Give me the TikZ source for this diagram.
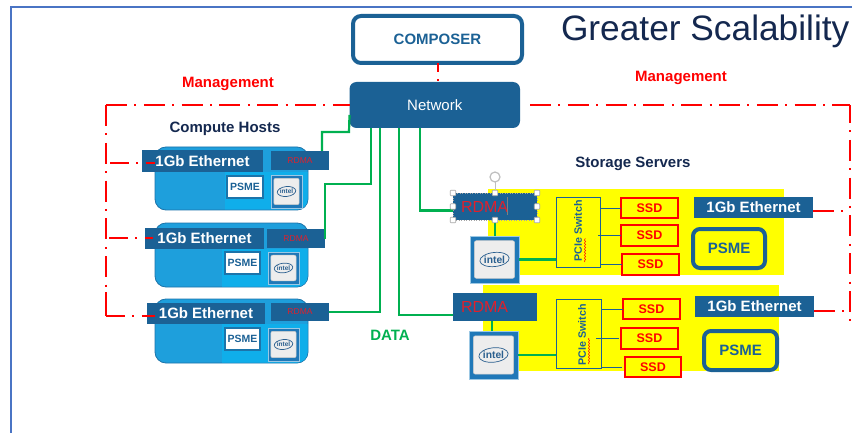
\documentclass[tikz,border=0pt]{standalone}
\usepackage{fontspec}
\setmainfont{Liberation Sans}
\usetikzlibrary{decorations.pathmorphing,shapes.geometric}
\definecolor{bl}{HTML}{1B6195}
\definecolor{navy}{HTML}{14284F}
\definecolor{frame}{HTML}{4A74C4}
\definecolor{grn}{HTML}{00B050}
\definecolor{rd}{HTML}{FF0000}
\definecolor{rdm}{HTML}{E0202C}
\definecolor{hostb}{HTML}{1E9FDC}
\definecolor{hostc}{HTML}{0FAEEA}
\definecolor{yel}{HTML}{FFFF00}
\definecolor{chipb}{HTML}{1F78B8}
\definecolor{chipe}{HTML}{9CC8E4}
\definecolor{chipt}{HTML}{2A5F8F}
\newcommand\bx[7][]{\node[#2,minimum width={#5-#3},minimum height={#6-#4},#1] (#7) at ({(#3+#5)/2},{(#4+#6)/2})}
\newcommand\chipat[5]{%
  \pgfmathsetmacro\chw{#4-#2}\pgfmathsetmacro\chh{#5-#3}\pgfmathsetmacro\chf{\chw*0.21}%
  \node[fill=chipb,draw=chipe,line width=.8pt,minimum width=\chw,minimum height=\chh] (#1) at ({(#2+#4)/2},{(#3+#5)/2}) {};
  \node[fill=gray!14,draw=gray!40,line width=.5pt,rounded corners=2pt,minimum width=\chw*.82,minimum height=\chh*.80] at (#1) {};
  \node[ellipse,draw=chipt,line width=.7pt,minimum width=\chw*.60,minimum height=\chh*.30,rotate=6] at (#1) {};
  \node[font=\fontsize{\chf}{\chf}\selectfont\bfseries,text=chipt] at (#1) {intel};
}
\newcommand\hostlight[4]{\fill[hostc] (#1,#3) -- (#1,#4) [rounded corners=10pt] -- (#2,#4) [sharp corners] -- (#2,#3) -- cycle;}
\tikzset{
  x=1pt,y=-1pt,
  every node/.style={inner sep=0pt,outer sep=0pt},
  host/.style={draw=bl!70!hostb,line width=.8pt,fill=hostb,rounded corners=11pt},
  eth/.style={fill=bl,text=white,font=\fontsize{15}{15}\selectfont\bfseries},
  rdsmall/.style={fill=bl,text=rdm,font=\fontsize{8.5}{8.5}\selectfont},
  rdbig/.style={fill=bl,text=rdm,font=\fontsize{16}{16}\selectfont},
  psmesmall/.style={fill=white,draw=bl!70!hostb,line width=1.2pt,text=bl,font=\fontsize{10.5}{10.5}\selectfont\bfseries},
  psmebig/.style={fill=yel,draw=bl,line width=4pt,rounded corners=7pt,text=bl,font=\fontsize{15}{15}\selectfont\bfseries},
  ssd/.style={fill=yel,draw=rd,line width=2.2pt,text=rd,font=\fontsize{12.5}{12.5}\selectfont\bfseries},
  pcie/.style={fill=yel,draw=bl,line width=.9pt},
  gl/.style={draw=grn,line width=2.2pt},
  tl/.style={draw=bl,line width=.9pt},
  mg/.style={draw=rd,line width=2pt,dash pattern=on 21pt off 7.4pt on 2pt off 7.4pt},
  lbl/.style={font=\fontsize{15}{15}\selectfont\bfseries},
  handle/.style={fill=white,draw=gray!70,line width=.6pt,rounded corners=.8pt,minimum size=5.5pt}
}
\begin{document}
\begin{tikzpicture}
\useasboundingbox (0,0) rectangle (852,433);
\fill[white] (0,0) rectangle (852,433);
\coordinate (ftl) at (11,7);
\coordinate (ftr) at (852,7);
\coordinate (fbl) at (11,433);
\draw[frame,line width=1.2pt] (ftr) -- (ftl) -- (fbl);

\node[text=navy,font=\fontsize{35.3}{35.3}\selectfont,anchor=west] (title) at (561,31) {Greater Scalability};
\node[lbl,text=rd] (mgl) at (228,84) {Management};
\node[lbl,text=rd] (mgr) at (681,78) {Management};
\node[lbl,text=navy] (chl) at (225,129) {Compute Hosts};
\node[lbl,text=navy] (ssl) at (633,164) {Storage Servers};
\node[lbl,text=grn] (dat) at (390,335) {DATA};

% yellow panels
\fill[yel] (488,189) rectangle (784,275);
\fill[yel] (483,285) rectangle (779,371);

% composer and network
\bx{draw=bl,line width=4pt,rounded corners=8pt,fill=white,text=bl,font=\fontsize{15}{15}\selectfont\bfseries}{353}{16}{522}{63}{comp} {COMPOSER};
\bx{fill=bl,rounded corners=7pt,text=white,font=\fontsize{15}{15}\selectfont}{349.5}{82}{520}{128}{net} {Network};

% hosts
\bx{host}{155}{147}{308}{210}{h1} {};
\bx{host}{155}{223}{308}{287}{h2} {};
\bx{host}{155}{299}{308}{363}{h3} {};
\hostlight{225}{307.5}{172}{209.5}
\hostlight{222}{307.5}{249}{286.5}
\hostlight{222}{307.5}{324}{362.5}
\bx{eth}{142}{150}{263}{172}{e1} {1Gb Ethernet};
\bx{eth}{145}{228}{264}{249}{e2} {1Gb Ethernet};
\bx{eth}{147}{303}{265}{324}{e3} {1Gb Ethernet};
\bx{rdsmall}{271}{151}{329}{170}{rh1} {RDMA};
\bx{rdsmall}{267}{229}{325}{248}{rh2} {RDMA};
\bx{rdsmall}{271}{303}{329}{321}{rh3} {RDMA};
\bx{psmesmall}{227}{176}{263}{198}{p1} {PSME};
\bx{psmesmall}{225}{252}{260}{274}{p2} {PSME};
\bx{psmesmall}{225}{328}{260}{350}{p3} {PSME};
\chipat{c1}{271}{175}{302}{208}
\chipat{c2}{268}{252}{299}{284}
\chipat{c3}{268}{328}{299}{361}

% storage
\bx[align=left,text width=84pt]{rdbig}{453}{193}{537}{220}{rs1} {\hspace*{8pt}RDMA};
\bx[align=left,text width=84pt]{rdbig}{453}{293}{537}{321}{rs2} {\hspace*{8pt}RDMA};
\chipat{s1}{470}{236}{519}{283}
\chipat{s2}{469}{331}{518}{379}
\bx{pcie}{556}{197}{600}{267}{sw1} {};
\bx{pcie}{556}{299}{601}{368}{sw2} {};
\node[rotate=90,text=bl,font=\fontsize{10.7}{10.7}\selectfont\bfseries] (sw1t) at (578,231) {PCIe Switch};
\node[rotate=90,text=bl,font=\fontsize{10.7}{10.7}\selectfont\bfseries] (sw2t) at (582,335) {PCIe Switch};
\draw[rd,line width=.5pt,decorate,decoration={snake,amplitude=.6pt,segment length=3pt}] (585,262) -- (585,238);
\draw[rd,line width=.5pt,decorate,decoration={snake,amplitude=.6pt,segment length=3pt}] (589,364) -- (589,338);

\bx{ssd}{621}{198}{678}{218}{d1} {SSD};
\bx{ssd}{621}{225}{678}{246}{d2} {SSD};
\bx{ssd}{622}{254}{679}{275}{d3} {SSD};
\bx{ssd}{623}{299}{680}{319}{d4} {SSD};
\bx{ssd}{621}{328}{678}{349}{d5} {SSD};
\bx{ssd}{625}{357}{681}{377}{d6} {SSD};
\bx{eth}{694}{197}{813}{218}{e4} {1Gb Ethernet};
\bx{eth}{695}{296}{814}{317}{e5} {1Gb Ethernet};
\bx{psmebig}{693}{229}{765}{268}{p4} {PSME};
\bx{psmebig}{704}{331}{777}{370}{p5} {PSME};

% thin links
\draw[tl] (sw1.east |- d1) -- (d1.west);
\draw[tl] ([xshift=-2pt]sw1.east |- d2) -- (d2.west);
\draw[tl] (sw1.east |- d3) -- (d3.west);
\draw[tl] (sw2.east |- d4) -- (d4.west);
\draw[tl] ([xshift=-5pt]sw2.east |- d5) -- ([xshift=-2pt]d5.west);
\draw[tl] (sw2.east |- d6) -- ([xshift=-3pt]d6.west);

% green
\coordinate (g1) at (349,132);
\coordinate (g2) at (371,184);
\draw[gl] ([xshift=-7pt]rh1.north east) |- (g1) -- ([yshift=-10pt]net.west);
\draw[gl] (rh2.east) |- (g2) -- (g2 |- net.south);
\draw[gl] (rh3.east) -| ([xshift=30.5pt]net.south west);
\draw[gl] ([yshift=-8pt]rs2.west) -| ([xshift=49.5pt]net.south west);
\draw[gl] ([yshift=-4pt]rs1.west) -| ([xshift=70.5pt]net.south west);
\draw[gl] (rs1.south) -- (rs1.south |- s1.north);
\draw[gl] ([xshift=-3pt]rs2.south) -- ([xshift=-3pt]rs2.south |- s2.north);
\draw[gl,line width=2.6pt] (s1.east) -- (sw1.west |- s1.east);
\draw[gl,line width=2.6pt] (s2.east) -- (sw2.west |- s2.east);

% management
\coordinate (ml) at (106,105);
\coordinate (mbot) at (106,316);
\coordinate (mb1) at (110,163);
\coordinate (mb2) at (109,238);
\coordinate (mb1e) at (155,163);
\coordinate (mb2e) at (153,238);
\coordinate (mb3e) at (155,316);
\coordinate (mrs) at (530,105);
\coordinate (mr) at (850,105);
\coordinate (mre) at (850,323);
\coordinate (mb3) at (850,211);
\coordinate (mb4) at (850,311);
\coordinate (mc1) at (438,63);
\coordinate (mc2) at (438,82);
\draw[mg] (ml) -- (net.west);
\draw[mg] (ml) -- (mbot);
\draw[draw=rd,line width=2pt] (106,292) -- (mbot);
\draw[mg,dash phase=2pt] (mbot) -- (mb3e);
\draw[mg,dash phase=2pt] (mb1) -- (mb1e);
\draw[mg,dash phase=2pt] (mb2) -- (mb2e);
\draw[mg] (mrs) -- (mr);
\draw[mg,dash phase=3pt] (mr) -- (mre);
\draw[mg] (e4.east |- mb3) -- (mb3);
\draw[mg] (e5.east |- mb4) -- (mb4);
\draw[mg,dash phase=12pt] (mc1) -- (mc2);

% selection handles
\draw[gray!70,line width=.5pt,dotted] (rs1.north west) rectangle (rs1.south east);
\draw[gray,line width=.7pt] ([xshift=12pt,yshift=-8.5pt]rs1.center) -- ++(0,-18);
\node[handle] (sh1) at (rs1.north west) {};
\node[handle] (sh2) at (rs1.north) {};
\node[handle] (sh3) at (rs1.north east) {};
\node[handle] (sh4) at (rs1.west) {};
\node[handle] (sh5) at (rs1.east) {};
\node[handle] (sh6) at (rs1.south west) {};
\node[handle] (sh7) at (rs1.south) {};
\node[handle] (sh8) at (rs1.south east) {};
\node[circle,draw=gray!50,line width=1.2pt,minimum size=10pt] (rot) at (495,177) {};
\draw[gray!50,line width=.7pt] (rot) -- (sh2);
\end{tikzpicture}
\end{document}
